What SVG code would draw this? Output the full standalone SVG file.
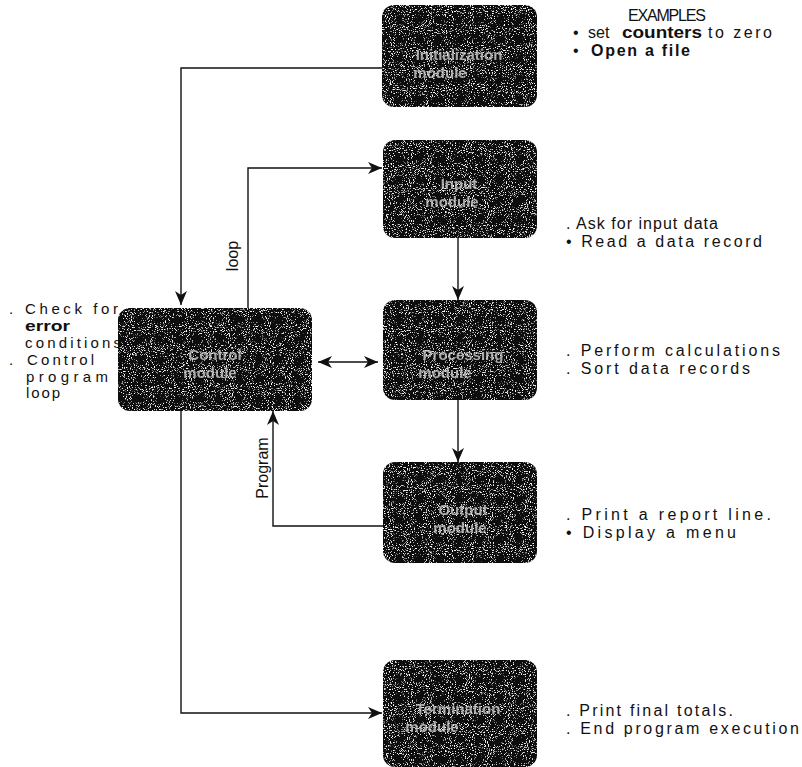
<svg xmlns="http://www.w3.org/2000/svg" width="802" height="767" viewBox="0 0 802 767">
<style>
.box{fill:#0e0e0e;filter:url(#grain)}
.lbl{font-family:"Liberation Sans",Arial,sans-serif;font-size:15px;font-weight:bold;fill:#d0d0d0;text-anchor:middle;opacity:0.8}
.ex{font-family:"Liberation Sans",Arial,sans-serif;font-size:16px;fill:#111}
.ln{font-family:"Liberation Sans",Arial,sans-serif;font-size:15px;fill:#111}
.conn{fill:none;stroke:#111;stroke-width:1.4}
.side{font-family:"Liberation Sans",Arial,sans-serif;font-size:16px;fill:#111}
</style>
<defs>
<filter id="grain" x="-5%" y="-5%" width="110%" height="110%">
<feTurbulence type="fractalNoise" baseFrequency="0.95" numOctaves="2" seed="7" result="n"/>
<feColorMatrix in="n" type="matrix" values="0 0 0 0 1  0 0 0 0 1  0 0 0 0 1  0 0 0 7 -4.2" result="w"/>
<feComposite in="w" in2="SourceGraphic" operator="in" result="spk"/>
<feMerge><feMergeNode in="SourceGraphic"/><feMergeNode in="spk"/></feMerge>
</filter>
<marker id="ah" viewBox="0 0 14 14" refX="14" refY="7" markerWidth="14" markerHeight="14" orient="auto-start-reverse" markerUnits="userSpaceOnUse">
<path d="M0,1 L14,7 L0,13 L4,7 Z" fill="#111"/>
</marker>
</defs>
<g id="connectors">
<path class="conn" d="M382,68 H181 V305" marker-end="url(#ah)"/>
<path class="conn" d="M248,308 V168 H382" marker-end="url(#ah)"/>
<path class="conn" d="M318,362 H378" marker-start="url(#ah)" marker-end="url(#ah)"/>
<path class="conn" d="M458,238 V300" marker-end="url(#ah)"/>
<path class="conn" d="M458,400 V462" marker-end="url(#ah)"/>
<path class="conn" d="M383,526 H273 V411" marker-end="url(#ah)"/>
<path class="conn" d="M181,410 V713 H382" marker-end="url(#ah)"/>
<text class="side" transform="translate(238,256) rotate(-90)" text-anchor="middle">loop</text>
<text class="side" transform="translate(268,468) rotate(-90)" text-anchor="middle">Program</text>
</g>
<g id="initialization">
<rect class="box" x="382" y="5" width="155" height="102" rx="12"/>
<text class="lbl" x="459" y="60">Initialization</text>
<text class="lbl" x="440" y="78">module</text>
</g>
<g id="input">
<rect class="box" x="383" y="140" width="154" height="98" rx="12"/>
<text class="lbl" x="459" y="189">Input</text>
<text class="lbl" x="452" y="207">module</text>
</g>
<g id="processing">
<rect class="box" x="383" y="300" width="154" height="100" rx="12"/>
<text class="lbl" x="463" y="360">Processing</text>
<text class="lbl" x="445" y="378">module</text>
</g>
<g id="output">
<rect class="box" x="383" y="462" width="154" height="101" rx="12"/>
<text class="lbl" x="463" y="515">Output</text>
<text class="lbl" x="460" y="533">module</text>
</g>
<g id="termination">
<rect class="box" x="383" y="660" width="154" height="107" rx="12"/>
<text class="lbl" x="458" y="714">Termination</text>
<text class="lbl" x="432" y="732">module</text>
</g>
<g id="control">
<rect class="box" x="118" y="308" width="194" height="103" rx="12"/>
<text class="lbl" x="215" y="360">Control</text>
<text class="lbl" x="210" y="378">module</text>
</g>
<g id="left-notes">
<text class="ln" x="9" y="314">.</text>
<text class="ln" x="25" y="314" textLength="93" lengthAdjust="spacing">Check for</text>
<text class="ln" x="25" y="331" font-weight="bold" font-size="16" textLength="45" lengthAdjust="spacingAndGlyphs">error</text>
<text class="ln" x="25" y="348" textLength="96" lengthAdjust="spacing">conditions</text>
<text class="ln" x="9" y="365">.</text>
<text class="ln" x="27" y="365" textLength="67" lengthAdjust="spacing">Control</text>
<text class="ln" x="26" y="382" font-size="13" textLength="82" lengthAdjust="spacing">program</text>
<text class="ln" x="26" y="398" font-size="13" textLength="34" lengthAdjust="spacing">loop</text>
</g>
<g id="examples">
<text class="ex" x="628" y="21" font-size="13" textLength="78" lengthAdjust="spacing">EXAMPLES</text>
<text class="ex" x="573" y="38">•</text>
<text class="ex" x="588" y="38">set</text>
<text class="ex" x="622" y="38" font-weight="bold" font-size="18" textLength="80" lengthAdjust="spacingAndGlyphs">counters</text>
<text class="ex" x="708" y="38" textLength="64" lengthAdjust="spacing">to zero</text>
<text class="ex" x="573" y="56">•</text>
<text class="ex" x="591" y="56" font-weight="bold" textLength="99" lengthAdjust="spacing">Open a file</text>
<text class="ex" x="566" y="229" textLength="152" lengthAdjust="spacing">. Ask for input data</text>
<text class="ex" x="566" y="247" textLength="196" lengthAdjust="spacing">• Read a data record</text>
<text class="ex" x="566" y="356" textLength="214" lengthAdjust="spacing">. Perform calculations</text>
<text class="ex" x="566" y="374" textLength="184" lengthAdjust="spacing">. Sort data records</text>
<text class="ex" x="566" y="520" font-size="15" textLength="205" lengthAdjust="spacing">. Print a report line.</text>
<text class="ex" x="566" y="538" textLength="170" lengthAdjust="spacing">• Display a menu</text>
<text class="ex" x="566" y="716" textLength="167" lengthAdjust="spacing">. Print final totals.</text>
<text class="ex" x="566" y="734" textLength="233" lengthAdjust="spacing">. End program execution</text>
</g>
</svg>
